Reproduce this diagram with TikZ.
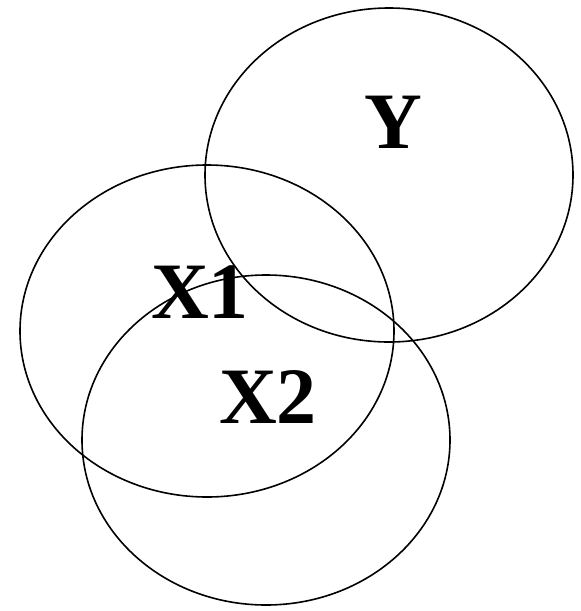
\documentclass[tikz,border=0pt]{standalone}
\usepackage{fontspec}
\setmainfont{Liberation Serif}
\begin{document}
\begin{tikzpicture}[x=1pt,y=-1pt,
  circ/.style={draw=black, line width=1.6pt},
  lab/.style={font=\fontsize{80}{80}\selectfont\bfseries, inner sep=0pt, anchor=center}]
\useasboundingbox[fill=white] (0,0) rectangle (581,611);
\draw[circ] (389,175) ellipse [x radius=184, y radius=167];
\draw[circ] (207,331) ellipse [x radius=187, y radius=166];
\draw[circ] (266,440) ellipse [x radius=184, y radius=165];
\node[lab] (Y) at (393,122) {Y};
\node[lab] (X1) at (200,292) {X1};
\node[lab] (X2) at (268,397) {X2};
\end{tikzpicture}
\end{document}
